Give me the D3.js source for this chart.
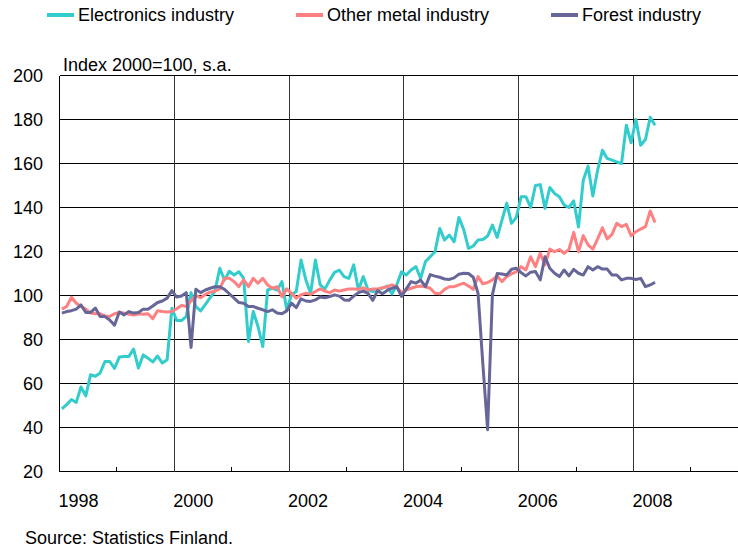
<!DOCTYPE html>
<html><head><meta charset="utf-8">
<script src="https://cdn.jsdelivr.net/npm/d3@7"></script>
<style>body{margin:0;background:#fff}svg text{font-family:"Liberation Sans",Arial,sans-serif;font-size:18px;fill:#000}</style>
</head><body><svg id="c" width="738" height="550"></svg>
<script>
// Monthly data, Jan 1998 .. May 2008
const startYear = 1998;
const electronics = [48.5,50.4,52.7,51.4,58.4,54.4,64,63.3,64.8,70,70,66.9,
72,72.3,72.3,75.6,67,73,71.5,69.8,72.5,69.3,70.8,94.2,
88.6,88.6,90.5,101.3,95,93,96,99,102,112.4,107,111,
109.3,110.8,107.8,79.1,92.7,85.9,76.8,102.5,103.3,102.5,106.3,93.5,
100.3,101.8,116.1,107.1,101,116.1,104.8,103,107,110.5,111.5,108.6,
107.8,113.9,102.5,108.6,102.5,101.8,102.5,103.3,104.3,100.7,104.8,110.8,
109.3,111.6,113.1,107.8,115.4,117.6,119.9,130.5,125.2,127.5,124.4,135.5,
130,121.4,122.5,125.2,125.5,127,132,126.4,134.3,142,132.8,135.5,
144.9,144.9,140,150,150.4,139.6,149.1,146.4,144.9,141.1,140,143,
131.2,152.4,158.8,145.2,157,166,162.3,161.5,160.7,160,177.4,169.4,
180,168.3,170.9,181,177.4];
const otherMetal = [93.8,95,99.2,96.5,95,93.8,92,91.7,91.7,90.7,90.5,91.7,
92.3,92,91.5,91.1,91.7,91.5,91.7,89.5,93.1,92.7,92.5,92.7,
94,95.5,95,97.5,100,99,100.5,101.5,102,103,107.8,107.8,
106.3,104,107.1,104,107.8,105.6,107.8,104.8,103.3,104,99.5,103,
101,98.8,100.3,101,100.5,101.8,103,102,101.3,102.5,102,102.5,
103,103,102.8,103.5,102.5,103,103,103.5,104,104.8,104,101.3,
102.5,103.3,104,104.3,104,103.3,101,100.8,102.8,104,104,104.8,
105.6,104.3,102.8,108.6,105.3,105.9,107.1,108.9,106.3,108.6,109.8,110.8,
113.1,111.6,117.6,113.1,119.2,113.9,121.1,119.9,120.9,119.2,120.9,128.7,
119.9,127.2,123,121.1,125.7,130.8,125.7,127.8,132.8,131.3,132.3,127.2,
129,130.2,131.3,138.4,133.2];
const forest = [92,92.7,93.1,93.8,95.7,92.3,92.3,94.3,90.4,90.4,88.9,86.5,
92.5,91.2,92.7,92,92.3,93.8,93.8,95.2,96.8,97.5,98.8,102.2,
99.3,99.8,101.3,76.4,102.8,101.3,102.5,103.3,104,104,102.8,100.8,
98.8,96.8,96.5,95,95,94.2,93.5,92.7,93.5,92,91.7,93,
96.5,94.5,98.5,97.5,97.3,98,99.3,99,99.5,100.3,99.7,98,
97.8,99.7,101.3,102,101,97.8,102.2,100.8,102.3,103.3,104,99.6,
103,106.3,105.6,107,104,109.5,108.8,108.3,107.5,107.3,108,109.7,
110.1,110,108.3,101,69,39,100.3,110,109.8,109.3,111.9,112.4,
110.4,108.9,110.6,110.9,107.1,117.6,112.4,110.1,108.6,111.6,108.9,111.9,
110.1,109.3,113.1,111.6,113.1,112,112,109.3,109.3,107.1,107.8,107.8,
107.3,107.8,104,104.8,106];
const seriesNames = ["Electronics industry","Other metal industry","Forest industry"];
const seriesColors = ["#33CCCC","#FF8080","#666699"];
const yTicks = [20,40,60,80,100,120,140,160,180,200];
const xLabelYears = [1998,2000,2002,2004,2006,2008];
const gridYears = [2000,2002,2004,2006,2008,2010];
const minorYears = [1999,2001,2003,2005,2007,2009];
const unitLabel = "Index 2000=100, s.a.";
const sourceLabel = "Source: Statistics Finland.";

const svg = d3.select("#c");
const x = d3.scaleLinear().domain([1998, 2010]).range([59.5, 748.3]);
const y = d3.scaleLinear().domain([20, 200]).range([471.5, 75.5]);
const X = v => Math.round(x(v) - 0.5) + 0.5;
const Y = v => Math.round(y(v) - 0.5) + 0.5;

const g = svg.append("g");
// horizontal grid
g.selectAll("line.h").data(yTicks).join("line")
  .attr("x1", X(1998)).attr("x2", 738).attr("y1", d => Y(d)).attr("y2", d => Y(d))
  .attr("stroke", "#000").attr("stroke-width", 1).attr("shape-rendering", "crispEdges");
// vertical grid
g.selectAll("line.v").data(gridYears).join("line")
  .attr("x1", d => X(d)).attr("x2", d => X(d)).attr("y1", Y(200)).attr("y2", Y(20))
  .attr("stroke", "#333").attr("stroke-width", 1).attr("shape-rendering", "crispEdges");
// left axis
g.append("line").attr("x1", X(1998)).attr("x2", X(1998)).attr("y1", Y(200)).attr("y2", Y(20))
  .attr("stroke", "#000").attr("shape-rendering", "crispEdges");
// minor ticks
g.selectAll("line.m").data(minorYears).join("line")
  .attr("x1", d => X(d)).attr("x2", d => X(d)).attr("y1", Y(20)).attr("y2", Y(20) - 5)
  .attr("stroke", "#000").attr("shape-rendering", "crispEdges");

// y labels
svg.selectAll("text.yl").data(yTicks).join("text")
  .attr("x", 43).attr("y", d => y(d)).attr("dy", "0.36em").attr("text-anchor", "end").text(d => d);
// x labels
svg.selectAll("text.xl").data(xLabelYears).join("text")
  .attr("x", d => x(d) + 19).attr("y", 507).attr("text-anchor", "middle").text(d => d);

svg.append("text").attr("x", 63).attr("y", 71).text(unitLabel);
svg.append("text").attr("x", 25).attr("y", 544).text(sourceLabel);

// series
const allSeries = [electronics, otherMetal, forest];
const line = d3.line().x((d, i) => x(startYear + (i + 0.5) / 12)).y(d => y(d));
allSeries.forEach((s, k) => {
  svg.append("path").datum(s).attr("d", line).attr("fill", "none")
    .attr("stroke", seriesColors[k]).attr("stroke-width", 3).attr("stroke-linejoin", "round");
});

// legend
const legX = [47, 296, 551];
seriesNames.forEach((n, k) => {
  svg.append("line").attr("x1", legX[k]).attr("x2", legX[k] + 27).attr("y1", 15).attr("y2", 15)
    .attr("stroke", seriesColors[k]).attr("stroke-width", 4);
  svg.append("text").attr("x", legX[k] + 31).attr("y", 15).attr("dy", "0.36em").text(n);
});
</script></body></html>
